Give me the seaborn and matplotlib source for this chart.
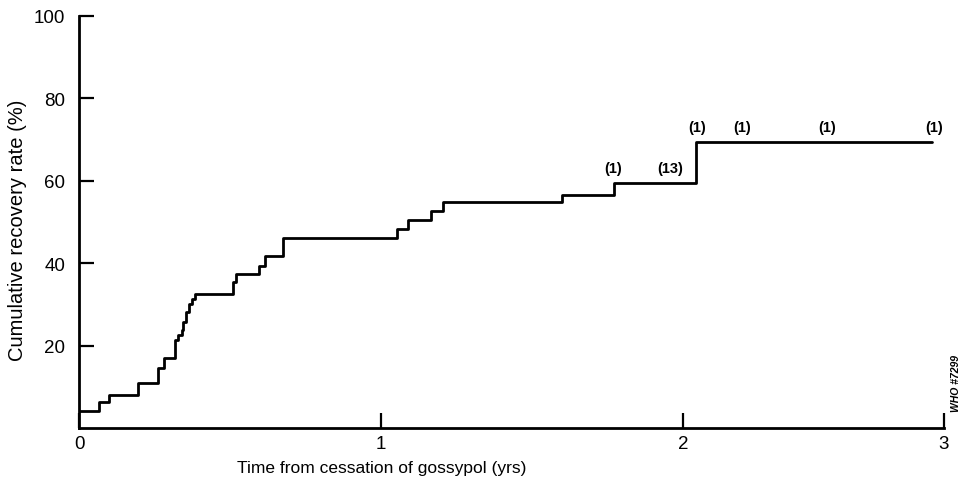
import matplotlib
matplotlib.use("Agg")
import matplotlib.pyplot as plt
import seaborn as sns
import pandas as pd

# Step times (years) and cumulative recovery rate (%) after each step
times = [0.0, 0.067, 0.100, 0.196, 0.263, 0.281, 0.318, 0.327, 0.340, 0.345,
         0.354, 0.365, 0.373, 0.384, 0.511, 0.520, 0.597, 0.616, 0.675,
         1.052, 1.088, 1.165, 1.206, 1.600, 1.772, 2.043, 2.826]
rates = [4.2, 6.4, 8.1, 10.8, 14.5, 17.0, 21.4, 22.5, 23.9, 25.8,
         28.2, 30.1, 31.2, 32.5, 35.4, 37.4, 39.2, 41.8, 46.0,
         48.3, 50.6, 52.6, 54.8, 56.6, 59.4, 69.3, 69.3]

# Censoring annotations: position (years), level (%), label
cens_t = [1.768, 1.957, 2.046, 2.195, 2.477, 2.831]
cens_y = [59.4, 59.4, 69.3, 69.3, 69.3, 69.3]
cens_lab = ["(1)", "(13)", "(1)", "(1)", "(1)", "(1)"]

xtick_pos = [0, 1, 2, 2.864]
xtick_lab = ["0", "1", "2", "3"]
ytick_pos = [20, 40, 60, 80, 100]
ytick_lab = ["20", "40", "60", "80", "100"]

sns.set_style("ticks")
plt.rcParams["font.family"] = ["Liberation Sans", "DejaVu Sans"]
plt.rcParams["text.color"] = "black"
plt.rcParams["axes.labelcolor"] = "black"

fig = plt.figure(figsize=(9.64, 4.85), dpi=100)
ax = fig.add_axes([0.082, 0.1155, 0.897, 0.8495])

df = pd.DataFrame({"t": times, "rate": rates})
sns.lineplot(data=df, x="t", y="rate", drawstyle="steps-post",
             color="black", linewidth=2.0, ax=ax, estimator=None)

for t, y, lab in zip(cens_t, cens_y, cens_lab):
    ax.annotate(lab, (t, y), xytext=(0, 6), textcoords="offset points",
                ha="center", va="bottom", fontsize=10.5, fontweight="bold",
                color="black")

ax.set_xlim(0, 2.864)
ax.set_ylim(0, 100)
ax.set_xticks(xtick_pos)
ax.set_xticklabels(xtick_lab)
ax.set_yticks(ytick_pos)
ax.set_yticklabels(ytick_lab)
ax.tick_params(direction="in", length=11, width=1.6, labelsize=13.5, pad=10,
               colors="black")
ax.tick_params(axis="x", pad=5)
for s in ["top", "right"]:
    ax.spines[s].set_visible(False)
for s in ["left", "bottom"]:
    ax.spines[s].set_linewidth(2.0)
    ax.spines[s].set_color("black")

ax.set_xlabel("Time from cessation of gossypol (yrs)", fontsize=12.5,
              color="black")
ax.set_ylabel("Cumulative recovery rate (%)", fontsize=14.5, color="black")
ax.xaxis.set_label_coords(0.350, -0.078)
ax.yaxis.set_label_coords(-0.060, 0.483)

fig.text(0.992, 0.15, "WHO #7299", rotation=90, fontsize=7.5,
         fontweight="bold", fontstyle="italic", ha="center", va="bottom",
         color="black")

fig.savefig("out.png", dpi=100)
